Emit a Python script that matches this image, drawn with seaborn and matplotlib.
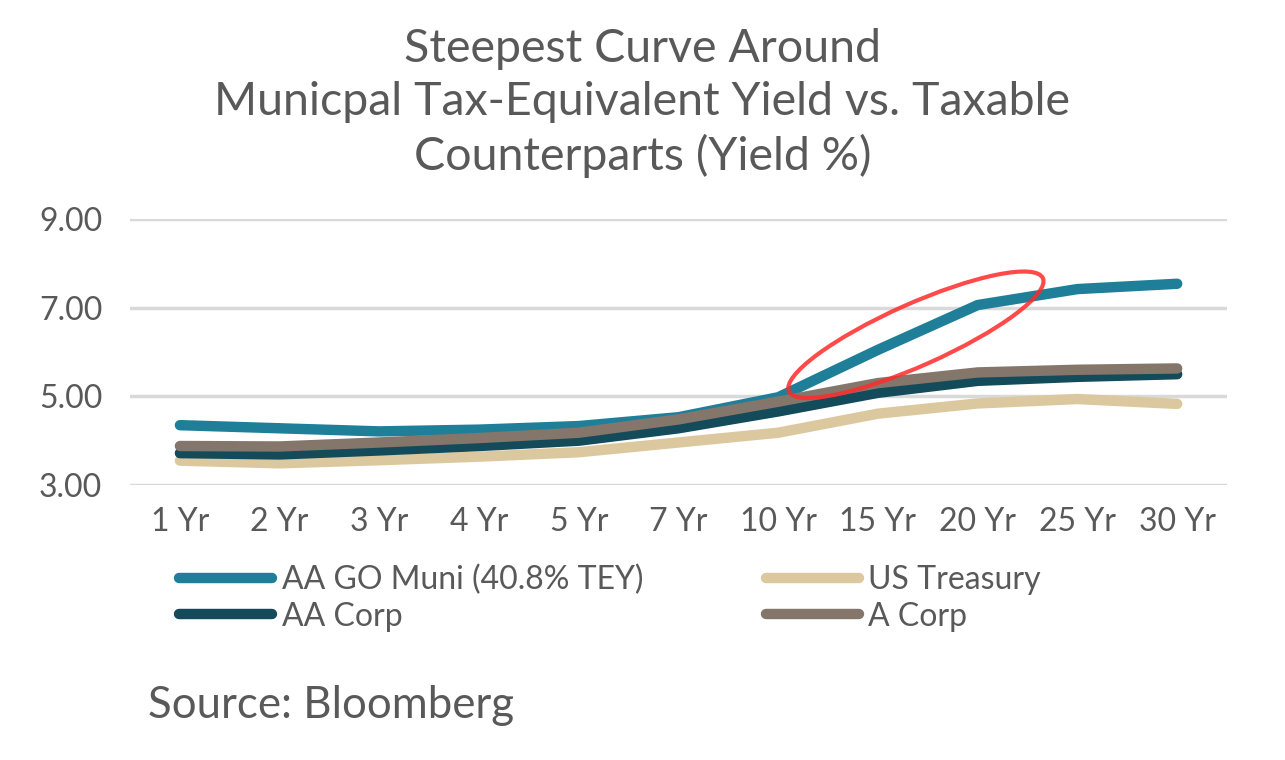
import matplotlib
matplotlib.use("Agg")
import matplotlib.pyplot as plt
import matplotlib.transforms as mtransforms
from matplotlib.patches import Ellipse
import pandas as pd
import seaborn as sns

# maturities on the x axis
maturities = ["1 Yr", "2 Yr", "3 Yr", "4 Yr", "5 Yr", "7 Yr", "10 Yr", "15 Yr", "20 Yr", "25 Yr", "30 Yr"]

# yields (%)
muni_tey = [4.35, 4.28, 4.21, 4.25, 4.33, 4.53, 4.98, 6.05, 7.06, 7.42, 7.54]
us_treasury = [3.55, 3.49, 3.56, 3.64, 3.74, 3.96, 4.18, 4.61, 4.84, 4.94, 4.83]
aa_corp = [3.72, 3.69, 3.78, 3.88, 4.00, 4.28, 4.66, 5.08, 5.35, 5.44, 5.50]
a_corp = [3.88, 3.87, 3.96, 4.06, 4.18, 4.48, 4.88, 5.30, 5.54, 5.60, 5.63]

series_names = ["AA GO Muni (40.8% TEY)", "US Treasury", "AA Corp", "A Corp"]
series_values = [muni_tey, us_treasury, aa_corp, a_corp]
series_colors = ["#1F7F99", "#DBC89E", "#134B5A", "#85766C"]

y_ticks = [3, 5, 7, 9]

TEXT = "#595959"
FONT = ["Lato", "DejaVu Sans"]

rows = []
for name, vals in zip(series_names, series_values):
    for m, v in zip(maturities, vals):
        rows.append({"Maturity": m, "Yield": v, "Series": name})
df = pd.DataFrame(rows)

sns.set_theme(style="white")
plt.rcParams["font.family"] = FONT

fig = plt.figure(figsize=(12.85, 7.6), dpi=100)
ax = fig.add_axes([0.1012, 0.3618, 0.8537, 0.35])

sns.lineplot(
    data=df,
    x="Maturity",
    y="Yield",
    hue="Series",
    hue_order=series_names,
    palette=dict(zip(series_names, series_colors)),
    linewidth=7.5,
    sort=False,
    legend=False,
    ax=ax,
)
for line in ax.lines:
    line.set_solid_capstyle("round")
    line.set_solid_joinstyle("round")
    line.set_clip_on(False)

ax.set_xlim(-0.5, len(maturities) - 0.5)
ax.set_ylim(3, 9)
ax.set_yticks(y_ticks)
ax.set_yticklabels([f"{t:.2f}" for t in y_ticks])
ax.set_xlabel("")
ax.set_ylabel("")
ax.grid(axis="y", color="#D9D9D9", linewidth=2.5, zorder=0)
ax.set_axisbelow(True)
for s in ax.spines.values():
    s.set_visible(False)
ax.tick_params(axis="both", length=0, labelsize=23, labelcolor=TEXT)
ax.tick_params(axis="y", pad=20)
ax.tick_params(axis="x", pad=16)

# legend: row-wise Muni | Treasury, AA Corp | A Corp
order = [0, 2, 1, 3]
leg = ax.legend(
    [ax.lines[i] for i in order],
    [series_names[i] for i in order],
    ncol=2,
    loc="upper left",
    bbox_to_anchor=(0.045, -0.30),
    frameon=False,
    fontsize=23,
    handlelength=2.9,
    handletextpad=0.3,
    columnspacing=3.85,
    labelspacing=0.2,
    borderaxespad=0,
    borderpad=0,
)
for t in leg.get_texts():
    t.set_color(TEXT)
for h in leg.get_lines():
    h.set_solid_capstyle("round")
    h.set_linewidth(7.5)

# red ellipse around the 10-20 Yr muni steepening
anchor = mtransforms.ScaledTranslation(7.38, 6.39, ax.transData)
ell = Ellipse((0, 0), width=2.78, height=0.62, angle=24,
              transform=fig.dpi_scale_trans + anchor,
              fill=False, edgecolor="#FF2A2A", linewidth=3, alpha=0.85)
fig.add_artist(ell)

fig.text(0.5, 1 - 103 / 760,
         "Steepest Curve Around\nMunicpal Tax-Equivalent Yield vs. Taxable\nCounterparts (Yield %)",
         ha="center", va="center", fontsize=33.5, color=TEXT,
         linespacing=1.3)
fig.text(148 / 1285, 1 - 705 / 760, "Source: Bloomberg",
         ha="left", va="center", fontsize=31.5, color=TEXT)

fig.savefig("out.png", dpi=100, facecolor="white")
